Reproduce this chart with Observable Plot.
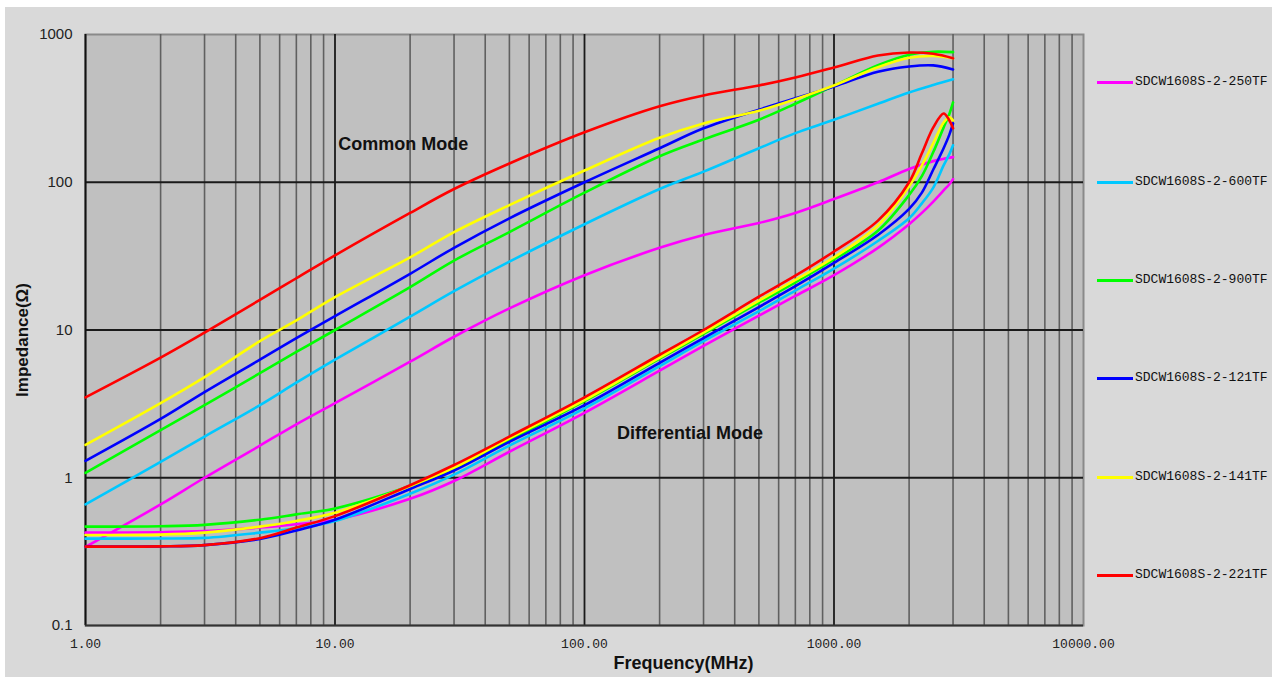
<!DOCTYPE html>
<html>
<head>
<meta charset="utf-8">
<script src="https://cdn.jsdelivr.net/npm/d3@7"></script>
<script src="https://cdn.jsdelivr.net/npm/@observablehq/plot@0.6"></script>
<style>
  html, body { margin: 0; padding: 0; background: #ffffff; }
  #wrap { position: relative; width: 1277px; height: 677px; overflow: hidden; }
  #panel { position: absolute; left: 5px; top: 7px; width: 1267px; height: 670px; background: #d9d9d9; }
  #chart { position: absolute; left: 0; top: 0; }
  #legend { position: absolute; left: 1097px; top: 0; }
  .item { position: absolute; left: 0; height: 16px; white-space: nowrap; }
  .item .sw { position: absolute; left: 0; top: 7px; width: 36px; height: 3px; }
  .item .lb { position: absolute; left: 38px; top: 0; font-family: "Liberation Mono", "DejaVu Sans Mono", monospace; font-size: 13px; line-height: 16px; color: #111; }
</style>
</head>
<body>
<div id="wrap"><div id="panel"></div><div id="chart"></div><div id="legend"></div></div>
<script>
// ---- Series (legend order) ----
const seriesNames = ["SDCW1608S-2-250TF","SDCW1608S-2-600TF","SDCW1608S-2-900TF","SDCW1608S-2-121TF","SDCW1608S-2-141TF","SDCW1608S-2-221TF"];
const seriesColors = ["#ff00ff","#00c8ff","#00ff00","#0000ff","#ffff00","#ff0000"];

// ---- Common mode impedance (Ω) vs frequency (MHz) ----
const cmFreq = [1,2,3,5,7,10,20,30,50,100,200,300,500,700,1000,1500,2000,2500,3000];
const cm250 = [0.34,0.66,1.0,1.65,2.3,3.2,6.1,9,14,23.5,36,44,53,62,77,100,123,139,148];
const cm600 = [0.66,1.28,1.9,3.1,4.4,6.3,12.3,18.3,29,52,90,118,170,215,265,340,405,455,497];
const cm900 = [1.08,2.1,3.1,5.1,7.1,10,19.5,29.5,46,85,150,195,265,340,450,620,730,765,760];
const cm121 = [1.30,2.5,3.8,6.3,8.8,12.4,24,36,57,100,170,232,310,370,445,560,608,618,580];
const cm141 = [1.67,3.2,4.8,8.4,11.6,16.7,31,46,70,120,200,250,305,365,452,600,695,715,690];
const cm221 = [3.5,6.5,9.6,16,22.4,32,62,90,134,218,327,387,452,512,598,720,755,740,690];

// ---- Differential mode impedance (Ω) vs frequency (MHz) ----
const dmFreq = [1,2,3,5,7,10,20,30,50,100,200,300,500,700,1000,1500,2000,2250,2500,2750,2900,3000];
const dm250 = [0.425,0.428,0.435,0.46,0.485,0.52,0.72,0.95,1.5,2.75,5.3,7.8,12.5,17,23.5,36,52,62,74,88,97,105];
const dm600 = [0.387,0.388,0.392,0.425,0.455,0.51,0.78,1.05,1.65,2.95,5.7,8.4,13.4,18.5,26,40,57,72,92,130,155,178];
const dm900 = [0.467,0.47,0.48,0.52,0.565,0.62,0.88,1.15,1.8,3.3,6.4,9.4,15.3,21,30,47,82,110,160,235,290,347];
const dm121 = [0.342,0.343,0.35,0.385,0.44,0.52,0.84,1.12,1.75,3.1,6.0,8.8,14.3,19.8,28.5,44,66,85,122,170,210,250];
const dm141 = [0.41,0.412,0.425,0.467,0.51,0.58,0.88,1.17,1.85,3.35,6.5,9.6,15.8,21.8,31,51,94,130,184,254,275,262];
const dm221 = [0.342,0.343,0.35,0.39,0.46,0.55,0.89,1.22,1.9,3.5,6.8,10,16.8,23.3,34,55,100,157,235,292,262,232];

// ---- Axis ticks ----
const xTicks = [1,10,100,1000,10000];
const xTickLabels = ["1.00","10.00","100.00","1000.00","10000.00"];
const yTicks = [0.1,1,10,100,1000];
const yTickLabels = ["0.1","1","10","100","1000"];

// ---- Build table ----
const cmSets = [cm250, cm600, cm900, cm121, cm141, cm221];
const dmSets = [dm250, dm600, dm900, dm121, dm141, dm221];
const rows = [];
seriesNames.forEach((name, i) => {
  cmSets[i].forEach((v, j) => rows.push({series: name, mode: "CM", f: cmFreq[j], z: v}));
  dmSets[i].forEach((v, j) => rows.push({series: name, mode: "DM", f: dmFreq[j], z: v}));
});

const minorX = [];
for (let d = 1; d < 10000; d *= 10) for (let k = 2; k <= 9; k++) minorX.push(d * k);

const lineMarks = [];
seriesNames.forEach((name, i) => {
  ["DM","CM"].forEach(mode => {
    lineMarks.push(Plot.line(rows.filter(r => r.series === name && r.mode === mode), {
      x: "f", y: "z", stroke: seriesColors[i], strokeWidth: 2.6, curve: "catmull-rom"
    }));
  });
});

const boldFont = "Liberation Sans, Arial, sans-serif";

const chart = Plot.plot({
  width: 1277, height: 677,
  marginLeft: 85, marginRight: 194, marginTop: 34, marginBottom: 52,
  style: {background: "transparent", overflow: "visible"},
  x: {type: "log", domain: [1, 10000], axis: null},
  y: {type: "log", domain: [0.1, 1000], axis: null},
  marks: [
    Plot.frame({fill: "#c0c0c0", stroke: "#8a8a8a", strokeWidth: 2}),
    Plot.ruleX(minorX, {stroke: "#606060", strokeWidth: 1.6}),
    Plot.ruleX(xTicks.slice(1, 4), {stroke: "#1a1a1a", strokeWidth: 1.8}),
    Plot.ruleY(yTicks.slice(1, 4), {stroke: "#1a1a1a", strokeWidth: 1.8}),
    Plot.ruleX([1], {stroke: "#111", strokeWidth: 2}),
    Plot.ruleY([0.1], {stroke: "#333", strokeWidth: 2}),
    ...lineMarks,
    Plot.text(["Common Mode"], {x: 10.3, y: 181, text: d => d, textAnchor: "start", fontSize: 18, fontWeight: "bold", fontFamily: boldFont, fill: "#111"}),
    Plot.text(["Differential Mode"], {x: 135, y: 2.0, text: d => d, textAnchor: "start", fontSize: 18, fontWeight: "bold", fontFamily: boldFont, fill: "#111"}),
    Plot.text(xTicks, {x: d => d, frameAnchor: "bottom", dy: 22, text: (d, i) => xTickLabels[i], fontSize: 13, fontFamily: "Liberation Mono, DejaVu Sans Mono, monospace", fill: "#222"}),
    Plot.text(yTicks, {y: d => d, frameAnchor: "left", dx: -13, textAnchor: "end", text: (d, i) => yTickLabels[i], fontSize: 15, fontFamily: "Liberation Sans, Arial, sans-serif", fill: "#222"}),
    Plot.text(["Frequency(MHz)"], {frameAnchor: "bottom", dy: 43, dx: 99, text: d => d, fontSize: 18, fontWeight: "bold", fontFamily: boldFont, fill: "#111"}),
    Plot.text(["Impedance(Ω)"], {frameAnchor: "left", dx: -63, dy: 10, rotate: -90, textAnchor: "middle", text: d => d, fontSize: 17, fontWeight: "bold", fontFamily: boldFont, fill: "#111"})
  ]
});
document.getElementById("chart").appendChild(chart);

// ---- Legend ----
const legendY = [82, 182, 280, 378, 477, 575];
const legend = document.getElementById("legend");
seriesNames.forEach((name, i) => {
  const it = document.createElement("div");
  it.className = "item";
  it.style.top = (legendY[i] - 8) + "px";
  it.innerHTML = `<div class="sw" style="background:${seriesColors[i]}"></div><div class="lb">${name}</div>`;
  legend.appendChild(it);
});
</script>
</body>
</html>
